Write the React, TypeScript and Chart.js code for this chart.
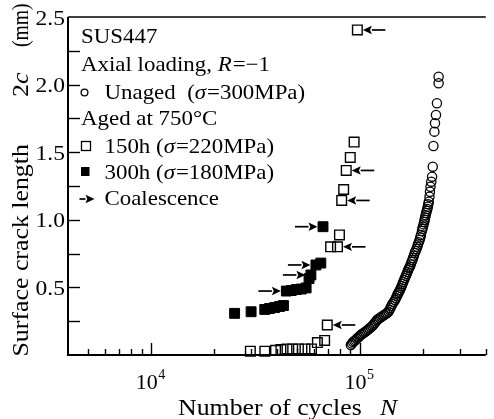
import React, { useEffect, useRef } from "react";
import { Chart, registerables } from "chart.js";

Chart.register(...registerables);

const FONT = '"Liberation Serif", "Times New Roman", serif';

// ---- data (cycles N, crack length 2c in mm) ----
const unagedN = [90400, 91500, 92700, 94000, 95200, 96500, 97900, 99300, 100800, 102300, 103900, 105600, 107300, 109000, 110800, 112600, 114500, 116000, 117600, 119100, 120600, 122400, 124200, 126200, 128300, 130400, 132500, 134700, 136900, 138300, 139800, 141300, 142900, 145000, 147200, 148600, 150100, 151300, 152500, 153900, 155300, 156800, 158400, 159700, 161000, 162500, 164000, 165600, 167200, 168600, 170000, 171500, 173100, 174800, 176500, 178000, 179400, 181000, 182700, 184500, 186300, 187800, 189400, 191100, 192900, 194300, 195700, 197800, 198900, 200000, 201400, 202800, 203900, 205000, 206100, 207300, 208600, 209900, 211100, 212200, 213400, 215000, 216200, 217400, 219300, 221200, 222900, 224600, 227000, 228500, 231000, 233400, 237800, 237800];
const unagedC = [0.074, 0.085, 0.096, 0.103, 0.111, 0.120, 0.129, 0.138, 0.148, 0.155, 0.163, 0.170, 0.178, 0.187, 0.196, 0.205, 0.214, 0.225, 0.237, 0.248, 0.259, 0.266, 0.274, 0.281, 0.288, 0.295, 0.303, 0.311, 0.320, 0.334, 0.348, 0.362, 0.377, 0.392, 0.407, 0.421, 0.436, 0.447, 0.459, 0.470, 0.481, 0.495, 0.510, 0.525, 0.540, 0.555, 0.570, 0.585, 0.599, 0.614, 0.629, 0.641, 0.653, 0.670, 0.688, 0.702, 0.717, 0.735, 0.754, 0.769, 0.784, 0.800, 0.817, 0.834, 0.851, 0.870, 0.888, 0.917, 0.933, 0.949, 0.966, 0.984, 1.000, 1.017, 1.033, 1.050, 1.065, 1.080, 1.097, 1.115, 1.134, 1.171, 1.208, 1.245, 1.282, 1.319, 1.393, 1.546, 1.652, 1.714, 1.775, 1.862, 2.010, 2.058];

const aged150N = [29850, 35000, 39400, 41800, 44700, 47600, 50700, 54500, 58600, 62500, 67700, 69700, 72300, 78000, 79700, 81700, 83500, 85900, 89800, 93700, 97100];
const aged150C = [0.028, 0.028, 0.035, 0.040, 0.045, 0.045, 0.045, 0.045, 0.045, 0.092, 0.108, 0.222, 0.800, 0.800, 0.888, 1.143, 1.224, 1.365, 1.461, 1.575, 2.404];

const aged300N = [25100, 30100, 35000, 36900, 39000, 41200, 43000, 44400, 46900, 49500, 52300, 55200, 57000, 58200, 61500, 64900, 66500];
const aged300C = [0.308, 0.320, 0.337, 0.344, 0.351, 0.359, 0.366, 0.473, 0.477, 0.484, 0.488, 0.496, 0.565, 0.592, 0.666, 0.680, 0.949];

// coalescence arrows
const coal150N = [69700, 78000, 81700, 85900, 97100];
const coal150C = [0.222, 0.800, 1.143, 1.365, 2.404];
const coal300N = [44400, 58200, 61500, 66500];
const coal300C = [0.473, 0.592, 0.666, 0.949];

// axes
const xMin = 4000;
const xMax = 400000;
const yMin = 0;
const yMax = 2.5;
const xMajorTicks = [10000, 100000];
const xMajorExp = ["4", "5"];
const xMinorTicks = [5000, 6000, 7000, 8000, 9000, 20000, 30000, 40000, 50000, 60000, 70000, 80000, 90000, 200000, 300000, 400000];
const yTicks = [0.25, 0.5, 0.75, 1.0, 1.25, 1.5, 1.75, 2.0, 2.25];
const yLabels = ["0.5", "1.0", "1.5", "2.0", "2.5"];

type Run = [string, boolean];
const legendLines: { runs: Run[]; marker: string }[] = [
  { runs: [["SUS447", false]], marker: "" },
  { runs: [["Axial loading, ", false], ["R", true], ["=\u22121", false]], marker: "" },
  { runs: [["Unaged  (", false], ["\u03c3", true], ["=300MPa)", false]], marker: "circle" },
  { runs: [["Aged at 750\u00b0C", false]], marker: "" },
  { runs: [["150h (", false], ["\u03c3", true], ["=220MPa)", false]], marker: "open" },
  { runs: [["300h (", false], ["\u03c3", true], ["=180MPa)", false]], marker: "filled" },
  { runs: [["Coalescence", false]], marker: "arrow" },
];
const yTitleRuns: Run[][] = [[["Surface crack length", false]], [["2", false], ["c", true]], [["(mm)", false]]];
const xTitleRuns: Run[][] = [[["Number of cycles", false]], [["N", true]]];

function drawRuns(ctx: CanvasRenderingContext2D, runs: Run[], x: number, y: number, size: number, sx: number) {
  let cx = x;
  for (const [text, italic] of runs) {
    ctx.font = `${italic ? "italic " : ""}${size}px ${FONT}`;
    ctx.save();
    ctx.translate(cx, y);
    ctx.scale(sx, 1);
    ctx.fillText(text, 0, 0);
    ctx.restore();
    cx += ctx.measureText(text).width * sx + (italic ? 1 : 0);
  }
  return cx;
}

function runsWidth(ctx: CanvasRenderingContext2D, runs: Run[], size: number) {
  let w = 0;
  for (const [text, italic] of runs) {
    ctx.font = `${italic ? "italic " : ""}${size}px ${FONT}`;
    w += ctx.measureText(text).width;
  }
  return w;
}

function drawArrow(ctx: CanvasRenderingContext2D, tailX: number, tipX: number, y: number) {
  const dir = tipX > tailX ? 1 : -1;
  const headLen = 9;
  const headHalf = 4.2;
  ctx.beginPath();
  ctx.moveTo(tailX, y);
  ctx.lineTo(tipX - dir * headLen, y);
  ctx.lineWidth = 1.7;
  ctx.stroke();
  ctx.beginPath();
  ctx.moveTo(tipX, y);
  ctx.lineTo(tipX - dir * headLen, y - headHalf);
  ctx.lineTo(tipX - dir * headLen * 0.8, y);
  ctx.lineTo(tipX - dir * headLen, y + headHalf);
  ctx.closePath();
  ctx.fill();
}

const decorPlugin = {
  id: "decor",
  beforeDatasetsDraw(chart: any) {
    const ctx: CanvasRenderingContext2D = chart.ctx;
    const { left, right, top, bottom } = chart.chartArea;
    const xs = chart.scales.x;
    const ys = chart.scales.y;
    ctx.save();
    ctx.strokeStyle = "#000";
    ctx.fillStyle = "#000";
    // frame
    ctx.lineWidth = 2;
    ctx.beginPath();
    ctx.moveTo(left, top);
    ctx.lineTo(left, bottom);
    ctx.lineTo(right, bottom);
    ctx.stroke();
    ctx.lineWidth = 1.5;
    ctx.beginPath();
    ctx.moveTo(left, top);
    ctx.lineTo(right, top);
    ctx.stroke();
    // y ticks (inward)
    ctx.lineWidth = 1.4;
    for (const v of yTicks) {
      const py = Math.round(ys.getPixelForValue(v)) + 0.5;
      ctx.beginPath();
      ctx.moveTo(left, py);
      ctx.lineTo(left + 12, py);
      ctx.stroke();
    }
    // x ticks (inward)
    for (const v of xMajorTicks) {
      const px = Math.round(xs.getPixelForValue(v)) + 0.5;
      ctx.beginPath();
      ctx.moveTo(px, bottom);
      ctx.lineTo(px, bottom - 12);
      ctx.stroke();
    }
    for (const v of xMinorTicks) {
      const px = Math.round(xs.getPixelForValue(v)) + 0.5;
      ctx.beginPath();
      ctx.moveTo(px, bottom);
      ctx.lineTo(px, bottom - 6);
      ctx.stroke();
    }
    // y tick labels
    ctx.textAlign = "right";
    ctx.textBaseline = "alphabetic";
    ctx.font = `21px ${FONT}`;
    for (const lab of yLabels) {
      const py = ys.getPixelForValue(parseFloat(lab));
      ctx.save();
      ctx.translate(left - 3, py + 7.5);
      ctx.scale(1.12, 1);
      ctx.fillText(lab, 0, 0);
      ctx.restore();
    }
    // x tick labels 10^n
    ctx.textAlign = "left";
    xMajorTicks.forEach((v, i) => {
      const px = xs.getPixelForValue(v);
      ctx.font = `22px ${FONT}`;
      const w1 = ctx.measureText("10").width;
      ctx.font = `14px ${FONT}`;
      const w2 = ctx.measureText(xMajorExp[i]).width;
      const x0 = px - (w1 + w2) / 2 - 1;
      ctx.font = `22px ${FONT}`;
      ctx.fillText("10", x0, bottom + 34);
      ctx.font = `14px ${FONT}`;
      ctx.fillText(xMajorExp[i], x0 + w1 + 0.5, bottom + 24);
    });
    // x title
    const tsize = 23;
    const wA = runsWidth(ctx, xTitleRuns[0], tsize);
    const sxX = (361.7 - 178) / wA;
    drawRuns(ctx, xTitleRuns[0], 178, 415, tsize, sxX);
    drawRuns(ctx, xTitleRuns[1], 380, 415, tsize, sxX);
    // y title (rotated)
    const segStarts = [356.5, 97, 47];
    yTitleRuns.forEach((runs, i) => {
      ctx.save();
      ctx.translate(28, segStarts[i]);
      ctx.rotate(-Math.PI / 2);
      drawRuns(ctx, runs, 0, 0, tsize, i === 2 ? 0.85 : sxX);
      ctx.restore();
    });
    ctx.restore();
  },
  afterDatasetsDraw(chart: any) {
    const ctx: CanvasRenderingContext2D = chart.ctx;
    const xs = chart.scales.x;
    const ys = chart.scales.y;
    ctx.save();
    ctx.strokeStyle = "#000";
    ctx.fillStyle = "#000";
    coal150N.forEach((n, i) => {
      const px = xs.getPixelForValue(n);
      const py = ys.getPixelForValue(coal150C[i]);
      drawArrow(ctx, px + 28, px + 5.5, py);
    });
    coal300N.forEach((n, i) => {
      const px = xs.getPixelForValue(n);
      const py = ys.getPixelForValue(coal300C[i]);
      drawArrow(ctx, px - 28, px - 5.5, py);
    });
    // legend block
    const lsize = 21;
    const lsx = 1.09;
    const baselines = [43, 71, 99, 125, 153, 179, 205];
    ctx.textAlign = "left";
    ctx.textBaseline = "alphabetic";
    legendLines.forEach((line, i) => {
      const by = baselines[i];
      let tx = 81;
      if (line.marker) {
        tx = 104.5;
        ctx.lineWidth = 1.3;
        if (line.marker === "circle") {
          ctx.beginPath();
          ctx.arc(84.5, by - 6.5, 3.4, 0, Math.PI * 2);
          ctx.stroke();
        } else if (line.marker === "open") {
          ctx.strokeRect(81.5, by - 11.5, 9, 9);
        } else if (line.marker === "filled") {
          ctx.fillRect(81, by - 12, 8.5, 9);
        } else if (line.marker === "arrow") {
          drawArrow(ctx, 79.5, 94.5, by - 6);
        }
      }
      drawRuns(ctx, line.runs, tx, by, lsize, lsx);
    });
    ctx.restore();
  },
};

export default function App() {
  const ref = useRef<HTMLCanvasElement>(null);
  useEffect(() => {
    const canvas = ref.current!;
    const chart = new Chart(canvas, {
      type: "scatter",
      data: {
        datasets: [
          {
            label: "Unaged",
            data: unagedN.map((n, i) => ({ x: n, y: unagedC[i] })),
            pointStyle: "circle",
            radius: 4.6,
            borderWidth: 1.3,
            borderColor: "#000",
            backgroundColor: "rgba(0,0,0,0)",
            clip: false,
          },
          {
            label: "150h",
            data: aged150N.map((n, i) => ({ x: n, y: aged150C[i] })),
            pointStyle: "rect",
            radius: 6.8,
            borderWidth: 1.4,
            borderColor: "#000",
            backgroundColor: "rgba(0,0,0,0)",
            clip: false,
          },
          {
            label: "300h",
            data: aged300N.map((n, i) => ({ x: n, y: aged300C[i] })),
            pointStyle: "rect",
            radius: 7,
            borderWidth: 1,
            borderColor: "#000",
            backgroundColor: "#000",
            clip: false,
          },
        ],
      },
      options: {
        responsive: false,
        animation: false,
        events: [],
        layout: { padding: { left: 68, top: 17, right: 0, bottom: 64 } },
        scales: {
          x: { type: "logarithmic", min: xMin, max: xMax, display: false },
          y: { type: "linear", min: yMin, max: yMax, display: false },
        },
        plugins: { legend: { display: false }, tooltip: { enabled: false } },
      } as any,
      plugins: [decorPlugin],
    });
    return () => chart.destroy();
  }, []);
  return (
    <canvas
      ref={ref}
      width={494}
      height={419}
      style={{ position: "absolute", left: 0, top: 0, width: 494, height: 419, background: "#fff" }}
    />
  );
}
